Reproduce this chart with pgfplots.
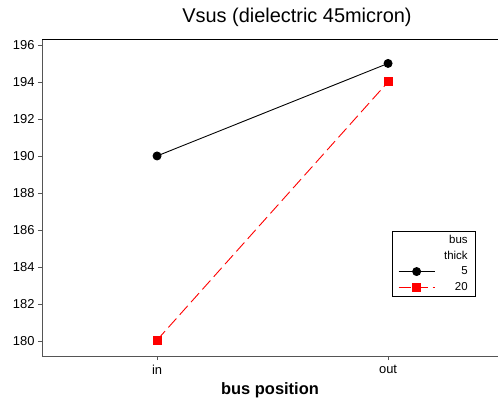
\documentclass[border=0pt]{standalone}
\usepackage{fontspec}
\setmainfont{Liberation Sans}
\usepackage{pgfplots}
\pgfplotsset{compat=1.18}
\usetikzlibrary{calc}
\definecolor{AxGray}{HTML}{555555}
\begin{document}
\begin{tikzpicture}[x=1bp,y=1bp]
\begin{axis}[
  scale only axis,width=456bp,height=317bp,
  xmin=-0.498,xmax=1.476,ymin=179.19,ymax=196.32,
  xtick={0,1},xticklabels={in,out},
  ytick={180,182,...,196},
  axis x line*=bottom,axis y line*=left,
  axis line style={AxGray,line width=1pt,-},
  tick align=outside,tick style={AxGray,line width=0.8pt},
  major tick length=4bp,
  tick label style={font=\fontsize{13}{15}\selectfont},
  /pgf/number format/assume math mode=true,
  xticklabel style={yshift=-2bp},
  xlabel={\bfseries bus position},
  xlabel style={font=\fontsize{16.5}{18}\selectfont,yshift=-1bp},
  legend style={at={(rel axis cs:0.7675,0.394)},anchor=north west,
    draw=black,fill=white,font=\fontsize{11.5}{13}\selectfont,
    inner xsep=6bp,inner ysep=2bp,row sep=2bp,
    /tikz/every odd column/.append style={column sep=7bp},
    /tikz/every even column/.append style={column sep=0bp}},
  legend cell align=right,
  legend image code/.code={\draw[mark repeat=2,mark phase=2,#1]
    plot coordinates {(0bp,0bp)(18bp,0bp)(36bp,0bp)};},
]
\addlegendimage{empty legend}\addlegendentry{bus}
\addlegendimage{empty legend}\addlegendentry{thick}
\addplot[black,line width=0.9pt,mark=*,mark size=4bp,mark options={solid}]
  coordinates {(0,190) (1,195)};
\addlegendentry{5}
\addplot[red,line width=0.9pt,dash pattern=on 12bp off 5bp,mark=square*,mark size=4bp,mark options={solid}]
  coordinates {(0,180.05) (1,194)};
\addlegendentry{20}
\coordinate (BL) at (rel axis cs:0,0);
\draw[black,line width=1.3pt] (rel axis cs:0,1) -- (rel axis cs:1,1);
\end{axis}
\pgfresetboundingbox
\useasboundingbox (BL) ++(-42,-44) rectangle ++(498,400);
\node[font=\fontsize{20}{23}\selectfont] at ($(BL)+(255,339)$) {Vsus (dielectric 45micron)};
\end{tikzpicture}
\end{document}
